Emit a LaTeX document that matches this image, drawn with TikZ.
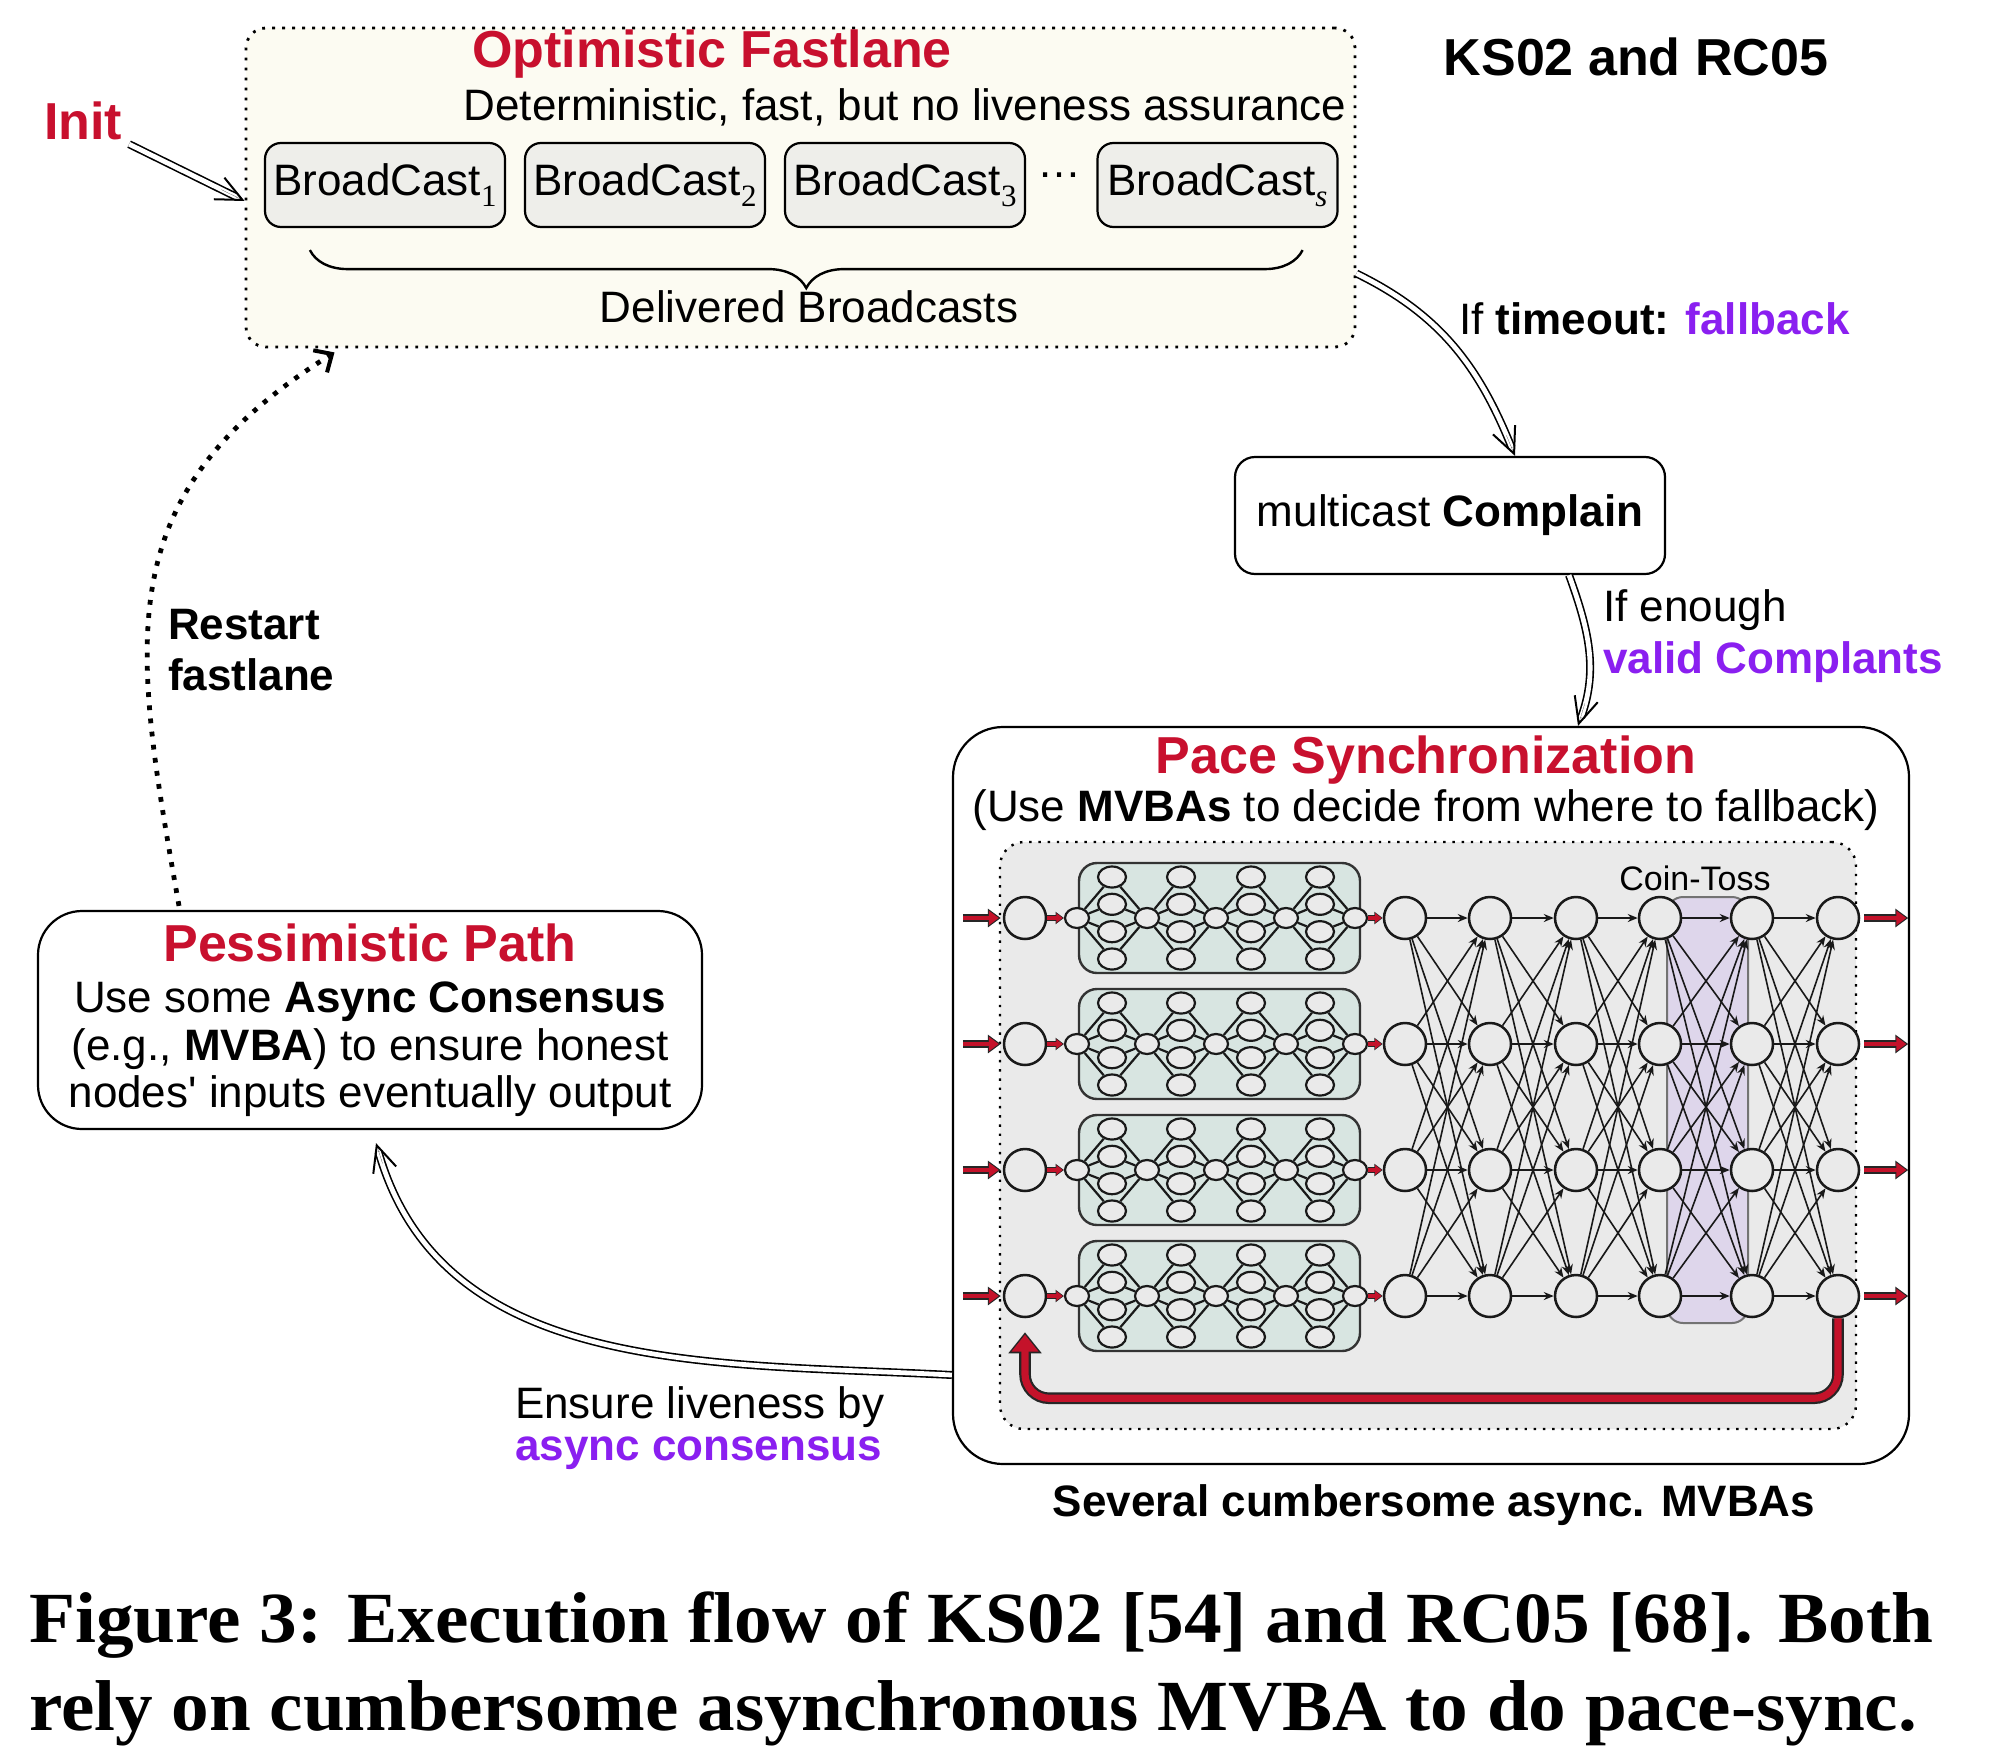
\documentclass[tikz,border=0pt]{standalone}
\usepackage{fontspec}
\setmainfont{Liberation Sans}
\newfontfamily\capfont{Liberation Serif}
\usepackage{tikz}
\usetikzlibrary{shapes.geometric, arrows.meta, decorations.pathreplacing, positioning}

\definecolor{titlered}{RGB}{200,16,46}
\definecolor{hilite}{RGB}{138,31,240}
\definecolor{fastfill}{RGB}{252,251,242}
\definecolor{bcfill}{RGB}{238,238,234}
\definecolor{poolgray}{RGB}{234,234,234}
\definecolor{mvbafill}{RGB}{216,229,225}
\definecolor{coinfill}{RGB}{222,214,235}
\definecolor{arrred}{RGB}{196,18,42}

\newcommand{\bsub}[1]{\raisebox{-5.5pt}{\fontsize{15.5}{15.5}\selectfont\capfont #1}}
\newlength\capwd
\newcommand{\capline}[2]{\settowidth{\capwd}{#2}\scalebox{\fpeval{#1/\capwd}}[1]{#2}}

\begin{document}
\begin{tikzpicture}[x=0.5pt, y=-0.5pt, node distance=130pt, line width=1.1pt]
    \tikzstyle{body} = [font=\fontsize{22}{23.75}\selectfont, inner sep=0pt]
    \tikzstyle{head} = [font=\fontsize{26}{28}\selectfont\bfseries, text=titlered, inner sep=0pt]
    \tikzstyle{lane} = [rectangle, draw=black, line width=1.4pt, dash pattern=on 1.4pt off 3.6pt]
    \tikzstyle{state} = [rectangle, draw=black, fill=white, align=center, font=\fontsize{22}{23.75}\selectfont, inner sep=0pt]
    \tikzstyle{bcast} = [rectangle, rounded corners=8pt, minimum width=120pt, minimum height=42pt, draw=black, fill=bcfill, font=\fontsize{22}{24}\selectfont, inner sep=0pt]
    \tikzstyle{net} = [circle, minimum size=21pt, inner sep=0pt, draw=black!90, fill=poolgray, line width=1.25pt]
    \tikzstyle{hub} = [ellipse, minimum width=12pt, minimum height=10pt, inner sep=0pt, draw=black!90, fill=poolgray, line width=1.1pt]
    \tikzstyle{leaf} = [ellipse, minimum width=14pt, minimum height=10.5pt, inner sep=0pt, draw=black!90, fill=poolgray, line width=1.1pt]
    \tikzstyle{mvba} = [rectangle, rounded corners=9pt, minimum width=140.5pt, minimum height=55pt, draw=black!80, fill=mvbafill, line width=1.2pt]
    \tikzstyle{wire} = [draw=black!90, line width=1.1pt]
    \tikzstyle{link} = [draw=black!90, line width=0.8pt, -{Stealth[length=5pt, width=4pt]}]
    \tikzstyle{dbl} = [double, double distance=2.4pt, line width=0.8pt, shorten >=4.5pt]
    \tikzstyle{barb} = [line width=0.05pt, -{Straight Barb[length=13pt, width=12pt, line width=1pt]}]
    \tikzstyle{restart} = [line width=2.4pt, dash pattern=on 2.4pt off 4.2pt, -{Straight Barb[length=7pt, width=13pt, line width=2pt]}]
    \tikzstyle{redarr} = [line width=2.4pt, draw=arrred, -{Triangle[length=5pt, width=7pt]}, shorten >=1pt, preaction={draw=black!85, line width=4.2pt, shorten >=0pt, -{Triangle[length=6.5pt, width=9pt]}}]
    \tikzstyle{tinyarr} = [line width=1.6pt, draw=arrred, -{Triangle[length=3.2pt, width=4.6pt]}, shorten >=0.6pt, preaction={draw=black!85, line width=2.9pt, shorten >=0pt, -{Triangle[length=4.2pt, width=6pt]}}]
    \tikzstyle{loopback} = [rounded corners=12pt, line width=3.6pt, draw=arrred, -{Triangle[length=8.5pt, width=13pt]}, shorten >=1.2pt, preaction={draw=black!85, line width=5.8pt, shorten >=0pt, -{Triangle[length=10.5pt, width=16pt]}}]

    \fill[white] (0,0) rectangle (2000,1760);
    \useasboundingbox (0,0) rectangle (2000,1760);

    \node (fast) [lane, rounded corners=10pt, fill=fastfill, minimum width=554.5pt, minimum height=159.5pt] at (800.5,187.5) {};
    \node (init) [head] at (83,121) {Init};
    \node (fasttitle) [head] at (712,54) {Optimistic Fastlane};
    \node (fastsub) [body] at (905,107) {Deterministic, fast, but no liveness assurance};
    \node (b1) [bcast] at (385,185) {BroadCast\bsub{1}};
    \node (b2) [bcast, right of=b1] {BroadCast\bsub{2}};
    \node (b3) [bcast, right of=b2] {BroadCast\bsub{3}};
    \node (gap) [body] at (1059,180) {\raisebox{5pt}{…}};
    \node (bs) [bcast] at (1217.5,185) {BroadCast\bsub{\itshape s}};
    \draw [decorate, decoration={brace, mirror, amplitude=19pt}, line width=1.2pt] ([xshift=23pt, yshift=-11pt]b1.south west) -- ([xshift=-18pt, yshift=-11pt]bs.south east);
    \node (delivered) [body] at (809,307) {Delivered Broadcasts};
    \draw [dbl] ([xshift=3pt, yshift=-1.5pt]init.south east) -- coordinate[pos=0.8] (init-t) coordinate[pos=1] (init-e) ([yshift=-6.75pt]fast.west);
    \draw [barb] (init-t) -- (init-e);

    \node (ks) [head, text=black] at (1636,57) {KS02 and RC05};

    \node (complain) [state, rounded corners=10pt, minimum width=215pt, minimum height=58.5pt] at (1450,515.5) {multicast \textbf{Complain}};
    \draw [dbl] ([yshift=-43pt]fast.east) to[out=-26, in=112] coordinate[pos=0.92] (fb-t) coordinate[pos=1] (fb-e) ([xshift=32.5pt]complain.north);
    \draw [barb] (fb-t) -- (fb-e);
    \node (timeout) [body, anchor=west] at (1458,319) {If \textbf{timeout:} \textcolor{hilite}{\textbf{fallback}}};

    \node (pace) [state, rounded corners=25pt, minimum width=478pt, minimum height=368.5pt] at (1431,1095.5) {};
    \draw [dbl] ([xshift=59.5pt]complain.south) to[out=-70, in=70] coordinate[pos=0.86] (cp-t) coordinate[pos=1] (cp-e) ([xshift=73.5pt]pace.north);
    \draw [barb] (cp-t) -- (cp-e);
    \node (enough) [body, anchor=west] at (1602,610) {If enough};
    \node (valid) [body, anchor=west, font=\fontsize{22}{24}\selectfont\bfseries, text=hilite] at (1602,662) {valid Complants};
    \node (pacetitle) [head] at (1426,760) {Pace Synchronization};
    \node (pacesub) [body] at (1426,810) {(Use \textbf{MVBAs} to decide from where to fallback)};

    \node (pool) [lane, rounded corners=12pt, line width=1.2pt, dash pattern=on 1.2pt off 3.4pt, fill=poolgray, minimum width=428pt, minimum height=293.5pt] at (1428,1135.5) {};
    \node (coin) [rectangle, rounded corners=8pt, draw=black!55, fill=coinfill, line width=1pt, minimum width=40.5pt, minimum height=213pt] at (1707.5,1110) {};
    \node (cointitle) [inner sep=0pt, font=\fontsize{17}{19}\selectfont] at (1695,878) {Coin-Toss};

    \foreach \r/\y in {1/918, 2/1044, 3/1170, 4/1296} {
        \node (g-\r) [mvba] at (1219.5,\y) {};
        \node (in-\r) [net] at (1025,\y) {};
        \foreach \k/\x in {0/1077, 1/1147, 2/1216, 3/1286, 4/1355}
            \node (h-\r-\k) [hub] at (\x,\y) {};
        \foreach \k/\p/\x in {1/0/1112, 2/1/1181, 3/2/1251, 4/3/1320}
            \foreach \j/\dy in {1/-41, 2/-13.7, 3/13.7, 4/41} {
                \node (l-\r-\k-\j) [leaf] at (\x,\y+\dy) {};
                \draw [wire] (h-\r-\p) -- (l-\r-\k-\j) -- (h-\r-\k);
            }
        \foreach \c/\x in {1/1405, 2/1490, 3/1576, 4/1660, 5/1752, 6/1838}
            \node (n-\c-\r) [net] at (\x,\y) {};
        \draw [redarr] ([xshift=-20pt]in-\r.west) -- ([xshift=-1pt]in-\r.west);
        \draw [tinyarr] (in-\r) -- (h-\r-0);
        \draw [tinyarr] (h-\r-4) -- (n-1-\r);
        \draw [redarr] ([xshift=2pt]n-6-\r.east) -- ([xshift=24pt]n-6-\r.east);
    }
    \foreach \c/\n in {1/2, 2/3, 3/4, 4/5, 5/6}
        \foreach \a in {1,...,4}
            \foreach \b in {1,...,4}
                \draw [link] (n-\c-\a) -- (n-\n-\b);
    \draw [loopback] (n-6-4.south) -- ++(0,-40pt) -| ([yshift=-7pt]in-4.south);
    \node (several) [body, font=\fontsize{22}{24}\selectfont\bfseries] at (1434,1505) {Several cumbersome async. MVBAs};

    \node (pess) [state, rounded corners=22pt, minimum width=332pt, minimum height=109pt] at (370,1020)
        {{\fontsize{26}{28}\selectfont\bfseries\color{titlered}Pessimistic Path}\\[2pt]
        Use some \textbf{Async Consensus}\\
        (e.g., \textbf{MVBA}) to ensure honest\\
        nodes\textquotesingle{} inputs eventually output};
    \draw [restart] ([xshift=-95.5pt, yshift=2pt]pess.north) to[out=100, in=212, looseness=1.2] ([xshift=-233pt, yshift=-2pt]fast.south);
    \node (restartlab) [body, anchor=west, align=left, font=\fontsize{22}{25.5}\selectfont\bfseries] at (167,650) {Restart\\fastlane};
    \draw [dbl] ([yshift=-139.75pt]pace.west) to[out=177, in=-74] coordinate[pos=0.97] (en-t) coordinate[pos=1] (en-e) ([xshift=3pt, yshift=-6.5pt]pess.south);
    \draw [barb] (en-t) -- (en-e);
    \node (ensure) [body, anchor=west] at (514,1407) {Ensure liveness by};
    \node (asynclab) [body, anchor=west, font=\fontsize{22}{24}\selectfont\bfseries, text=hilite] at (514,1453) {async consensus};

    \node (cap1) [anchor=base west, inner sep=0pt, font=\capfont\bfseries\fontsize{36}{40}\selectfont] at (28,1642) {\capline{952pt}{Figure 3: Execution flow of KS02 [54] and RC05 [68]. Both}};
    \node (cap2) [anchor=base west, inner sep=0pt, font=\capfont\bfseries\fontsize{36}{40}\selectfont] at (28,1730) {\capline{944pt}{rely on cumbersome asynchronous MVBA to do pace-sync.}};
\end{tikzpicture}
\end{document}
